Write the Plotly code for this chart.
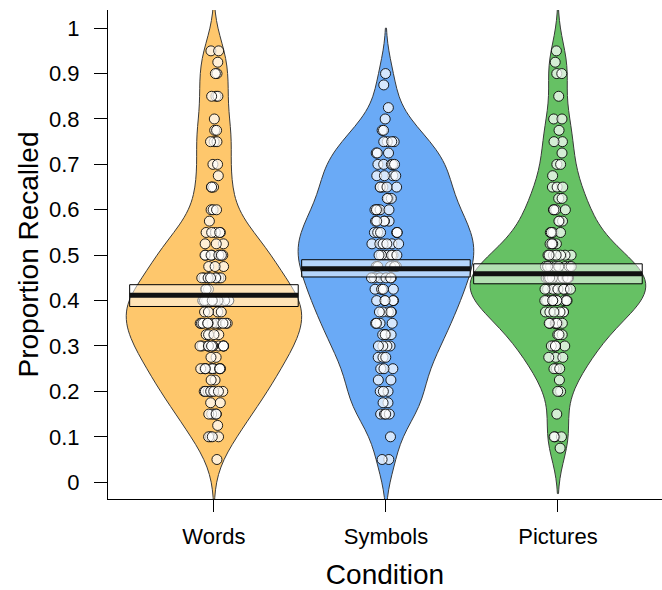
import numpy as np
import plotly.graph_objects as go

categories = ["Words", "Symbols", "Pictures"]
fill_colors = ["#FEC76C", "#6AAAF6", "#66C164"]

# Recall values (value levels and how many points sit on each level)
words_levels = [0.95, 0.925, 0.9, 0.85, 0.8, 0.775, 0.75, 0.7, 0.675, 0.65, 0.6, 0.575,
                0.55, 0.525, 0.5, 0.475, 0.45, 0.425, 0.4, 0.375, 0.35, 0.325, 0.3, 0.275,
                0.25, 0.225, 0.2, 0.175, 0.15, 0.125, 0.1, 0.05]
words_counts = [2, 1, 2, 3, 1, 2, 3, 2, 1, 3, 3, 1,
                5, 3, 8, 3, 9, 3, 14, 4, 12, 4, 12, 2,
                10, 2, 8, 2, 5, 1, 4, 1]

symbols_levels = [0.9, 0.875, 0.825, 0.8, 0.775, 0.75, 0.725, 0.7, 0.675, 0.65, 0.625,
                  0.6, 0.575, 0.55, 0.525, 0.5, 0.475, 0.45, 0.425, 0.4, 0.375, 0.35,
                  0.325, 0.3, 0.275, 0.25, 0.225, 0.2, 0.175, 0.15, 0.1, 0.05]
symbols_counts = [1, 1, 1, 1, 2, 4, 3, 5, 4, 5, 3,
                  6, 5, 6, 6, 7, 5, 6, 5, 5, 5, 4,
                  4, 4, 3, 3, 2, 3, 2, 4, 1, 2]

pictures_levels = [0.95, 0.925, 0.9, 0.85, 0.8, 0.775, 0.75, 0.725, 0.7, 0.675, 0.65,
                   0.625, 0.6, 0.575, 0.55, 0.525, 0.5, 0.475, 0.45, 0.425, 0.4, 0.375,
                   0.35, 0.325, 0.3, 0.275, 0.25, 0.225, 0.2, 0.15, 0.1, 0.075]
pictures_counts = [1, 1, 2, 1, 2, 1, 2, 1, 2, 1, 3,
                   2, 4, 3, 4, 4, 7, 8, 11, 9, 10, 6,
                   7, 3, 5, 3, 3, 1, 2, 1, 3, 1]

# Means and inference bands
means = [0.412, 0.470, 0.459]
band_low = [0.387, 0.452, 0.437]
band_high = [0.435, 0.490, 0.481]

y_tickvals = [0, 0.1, 0.2, 0.3, 0.4, 0.5, 0.6, 0.7, 0.8, 0.9, 1]
y_ticktext = ["0", "0.1", "0.2", "0.3", "0.4", "0.5", "0.6", "0.7", "0.8", "0.9", "1"]

series = [
    np.repeat(words_levels, words_counts),
    np.repeat(symbols_levels, symbols_counts),
    np.repeat(pictures_levels, pictures_counts),
]

FONT = "Liberation Sans, Arial, Helvetica, sans-serif"
fig = go.Figure()

for i, (cat, vals, col) in enumerate(zip(categories, series, fill_colors)):
    pos = i + 1
    fig.add_trace(go.Violin(
        x=[pos] * len(vals), y=vals, name=cat,
        points="all", jitter=0.17, pointpos=0, width=1.02,
        scalemode="width", spanmode="soft", bandwidth=0.05,
        fillcolor=col, opacity=1,
        line=dict(color="#3a3a3a", width=1),
        marker=dict(color="rgba(255,255,255,0.72)", size=10,
                    line=dict(color="rgba(0,0,0,0.85)", width=1)),
        box_visible=False, meanline_visible=False,
        showlegend=False, hoverinfo="y",
    ))

for i in range(len(categories)):
    pos = i + 1
    fig.add_shape(type="rect", xref="x", yref="y",
                  x0=pos - 0.49, x1=pos + 0.49, y0=band_low[i], y1=band_high[i],
                  fillcolor="rgba(255,255,255,0.5)",
                  line=dict(color="black", width=1), layer="above")
    fig.add_shape(type="line", xref="x", yref="y",
                  x0=pos - 0.49, x1=pos + 0.49, y0=means[i], y1=means[i],
                  line=dict(color="#111111", width=5), layer="above")

fig.update_layout(
    width=662, height=590,
    margin=dict(l=108, r=0, t=10, b=91, autoexpand=False),
    paper_bgcolor="white", plot_bgcolor="white",
    violinmode="overlay",
    font=dict(family=FONT, color="black"),
    xaxis=dict(
        range=[0.384, 3.605], tickvals=[1, 2, 3], ticktext=categories,
        ticks="outside", ticklen=12, tickcolor="black", tickwidth=1,
        showline=True, linecolor="black", linewidth=1,
        showgrid=False, zeroline=False, automargin=False,
        tickfont=dict(size=22), ticklabelstandoff=6,
        title=dict(text="Condition", font=dict(size=28), standoff=16),
    ),
    yaxis=dict(
        range=[-0.037, 1.04], tickvals=y_tickvals, ticktext=y_ticktext,
        ticks="outside", ticklen=13, tickcolor="black", tickwidth=1,
        showline=True, linecolor="black", linewidth=1,
        showgrid=False, zeroline=False, automargin=False,
        tickfont=dict(size=22), ticklabelstandoff=10,
        title=dict(text="Proportion Recalled", font=dict(size=28), standoff=2),
    ),
)

fig.write_html("out.html", config={"displayModeBar": False},
               post_script="document.body.style.margin='0';")
